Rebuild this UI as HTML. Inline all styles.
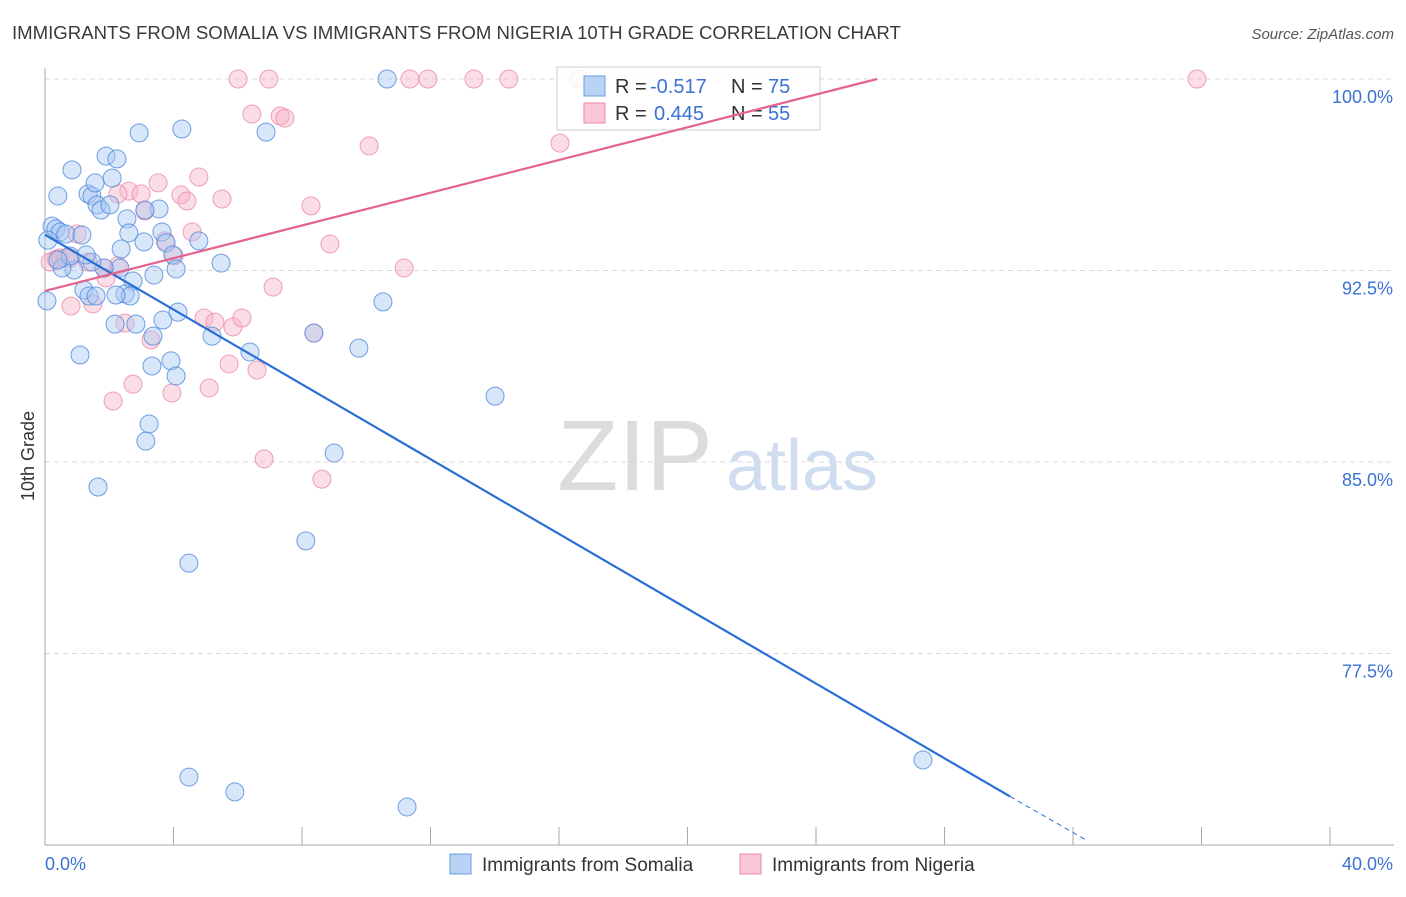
<!DOCTYPE html>
<html><head><meta charset="utf-8"><style>
body{margin:0;background:#fff;font-family:"Liberation Sans",sans-serif;}
svg text{font-family:"Liberation Sans",sans-serif;}
</style></head><body>
<svg id="chart" width="1406" height="892" xmlns="http://www.w3.org/2000/svg">
<text x="12" y="39" font-size="18.6" fill="#3a3a3a">IMMIGRANTS FROM SOMALIA VS IMMIGRANTS FROM NIGERIA 10TH GRADE CORRELATION CHART</text>
<text x="1394" y="39" font-size="15" fill="#555" text-anchor="end" font-style="italic">Source: ZipAtlas.com</text>
<g>
<text x="635" y="490" font-size="100" fill="#dcdcdc" text-anchor="middle" font-family="Liberation Serif, serif">ZIP</text>
<text x="802" y="490" font-size="72" fill="#d0ddf0" text-anchor="middle">atlas</text>
</g>
<g id="grid"></g>
<g id="axes"></g>
<g id="pts"></g>
<g>
<rect x="557" y="67" width="263" height="63" fill="#fff" fill-opacity="0.85" stroke="#ccc"/>
<rect x="584" y="76" width="21" height="20" fill="#b8d3f5" stroke="#6a9de0"/>
<rect x="584" y="103" width="21" height="20" fill="#fbc6d5" stroke="#eb8aa8"/>
<text x="615" y="93" font-size="20" fill="#333">R =</text>
<text x="650" y="93" font-size="20" fill="#3a72d4">-0.517</text>
<text x="731" y="93" font-size="20" fill="#333">N =</text>
<text x="768" y="93" font-size="20" fill="#3a72d4">75</text>
<text x="615" y="120" font-size="20" fill="#333">R =</text>
<text x="654" y="120" font-size="20" fill="#3a72d4">0.445</text>
<text x="731" y="120" font-size="20" fill="#333">N =</text>
<text x="768" y="120" font-size="20" fill="#3a72d4">55</text>
</g>
<g id="lines"></g>
<text transform="translate(34,456) rotate(-90)" font-size="18" fill="#333" text-anchor="middle">10th Grade</text>
<g>
<rect x="450" y="854" width="21" height="20" fill="#b8d3f5" stroke="#6a9de0"/>
<text x="482" y="871" font-size="19" fill="#333">Immigrants from Somalia</text>
<rect x="740" y="854" width="21" height="20" fill="#fbc6d5" stroke="#eb8aa8"/>
<text x="772" y="871" font-size="19" fill="#333">Immigrants from Nigeria</text>
</g>
</svg>
<script>
const somaliaPx=[[52,226],[56,229],[60,232],[66,234],[58,196],[72,170],[88,194],[92,196],[95,183],[97,205],[101,210],[106,156],[117,159],[112,178],[110,205],[127,219],[139,133],[182,129],[266,132],[387,79],[129,233],[121,249],[144,242],[159,209],[145,210],[162,232],[166,243],[173,255],[199,241],[221,263],[120,268],[104,268],[92,262],[74,270],[62,268],[70,256],[82,235],[133,281],[125,294],[130,296],[154,275],[176,269],[84,290],[89,296],[47,301],[115,324],[136,324],[163,320],[178,312],[212,336],[250,352],[153,336],[80,355],[171,361],[176,376],[152,366],[314,333],[359,348],[383,302],[495,396],[149,424],[146,441],[334,453],[98,487],[306,541],[189,563],[189,777],[235,792],[407,807],[923,760],[116,295],[96,296],[86,255],[48,240],[58,260]];
const nigeriaPx=[[238,79],[269,79],[410,79],[428,79],[474,79],[509,79],[579,79],[1197,79],[252,114],[280,116],[285,118],[369,146],[560,143],[199,177],[158,183],[129,191],[141,194],[118,194],[181,195],[187,201],[222,199],[311,206],[145,211],[192,232],[77,234],[330,244],[165,241],[174,256],[404,268],[273,287],[118,266],[104,268],[88,262],[70,258],[56,259],[50,262],[60,258],[66,258],[106,278],[93,304],[71,306],[125,323],[204,318],[215,322],[233,327],[242,318],[151,340],[229,364],[257,370],[314,333],[133,384],[209,388],[172,393],[113,401],[264,459],[322,479]];
const somaliaX=somaliaPx.map(p=>+((p[0]-45)/32.125).toFixed(2));
const somaliaY=somaliaPx.map(p=>+(100-(p[1]-79)/25.533).toFixed(2));
const nigeriaX=nigeriaPx.map(p=>+((p[0]-45)/32.125).toFixed(2));
const nigeriaY=nigeriaPx.map(p=>+(100-(p[1]-79)/25.533).toFixed(2));
const yTicks=[100,92.5,85,77.5];
const yTickLabels=["100.0%","92.5%","85.0%","77.5%"];
const xTicks=[0,4,8,12,16,20,24,28,32,36,40];
const somaliaTrend=[[0,93.9],[30.04,71.9]];
const somaliaTrendExt=[[30.04,71.9],[32.4,70.2]];
const nigeriaTrend=[[0,91.7],[25.9,100]];

const X=v=>45+v*32.125, Y=v=>79+(100-v)*25.533;
const NS="http://www.w3.org/2000/svg";
function mk(tag,parent,attrs){const e=document.createElementNS(NS,tag);for(const k in attrs)e.setAttribute(k,attrs[k]);document.getElementById(parent).appendChild(e);return e;}
yTicks.forEach((t,i)=>{
  const l=mk('line','grid',{x1:45,x2:1394,y1:Y(t),y2:Y(t),stroke:'#d8d8d8','stroke-dasharray':'5,4'});
  
  
  const tx=mk('text','grid',{x:1393,y:Y(t)+24,'font-size':18,fill:'#3a72d4','text-anchor':'end'});
  tx.textContent=yTickLabels[i];
  
  
});
const ya=mk('line','axes',{x1:45,x2:45,y1:68,y2:845,stroke:'#aaa'});


const xa=mk('line','axes',{x1:45,x2:1394,y1:845,y2:845,stroke:'#aaa'});


xTicks.forEach(t=>{const k=mk('line','axes',{x1:X(t),x2:X(t),y1:827,y2:845,stroke:'#aaa'});
  
  });
const xl0=mk('text','axes',{x:45,y:870,'font-size':18,fill:'#3a72d4'});xl0.textContent='0.0%';


const xl1=mk('text','axes',{x:1393,y:870,'font-size':18,fill:'#3a72d4','text-anchor':'end'});xl1.textContent='40.0%';


nigeriaX.forEach((x,i)=>{const c=mk('circle','pts',{cx:X(x),cy:Y(nigeriaY[i]),r:9,fill:'#f7b3c8','fill-opacity':0.45,stroke:'#eb8aa8','stroke-opacity':0.8});
  
  });
somaliaX.forEach((x,i)=>{const c=mk('circle','pts',{cx:X(x),cy:Y(somaliaY[i]),r:9,fill:'#a9c8f2','fill-opacity':0.45,stroke:'#4d88dd','stroke-opacity':0.8});
  
  });
const b=mk('line','lines',{x1:X(somaliaTrend[0][0]),y1:Y(somaliaTrend[0][1]),x2:X(somaliaTrend[1][0]),y2:Y(somaliaTrend[1][1]),stroke:'#2a6fd6','stroke-width':2.2});


const be=mk('line','lines',{x1:X(somaliaTrendExt[0][0]),y1:Y(somaliaTrendExt[0][1]),x2:X(somaliaTrendExt[1][0]),y2:Y(somaliaTrendExt[1][1]),stroke:'#2a6fd6','stroke-width':1,'stroke-dasharray':'5,4'});


const p=mk('line','lines',{x1:X(nigeriaTrend[0][0]),y1:Y(nigeriaTrend[0][1]),x2:X(nigeriaTrend[1][0]),y2:Y(nigeriaTrend[1][1]),stroke:'#e5628d','stroke-width':2.2});


</script>
</body></html>
